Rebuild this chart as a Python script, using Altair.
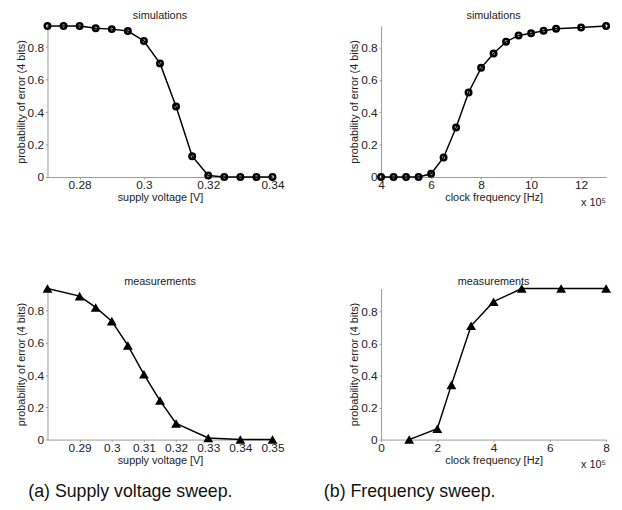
import altair as alt
import pandas as pd

# ---- data ----
v_sim = [0.27, 0.275, 0.28, 0.285, 0.29, 0.295, 0.30, 0.305, 0.31, 0.315, 0.32, 0.325, 0.33, 0.335, 0.34]
p_v_sim = [0.93, 0.93, 0.93, 0.917, 0.911, 0.899, 0.838, 0.70, 0.435, 0.128, 0.01, 0.0, 0.0, 0.0, 0.0]

f_sim = [4, 4.5, 5, 5.5, 6, 6.5, 7, 7.5, 8, 8.5, 9, 9.5, 10, 10.5, 11, 12, 13]
p_f_sim = [0.0, 0.0, 0.0, 0.0, 0.02, 0.121, 0.306, 0.522, 0.674, 0.763, 0.835, 0.874, 0.888, 0.903, 0.915, 0.923, 0.932]

v_meas = [0.28, 0.29, 0.295, 0.30, 0.305, 0.31, 0.315, 0.32, 0.33, 0.34, 0.35]
p_v_meas = [0.937, 0.89, 0.82, 0.735, 0.584, 0.405, 0.242, 0.10, 0.01, 0.0, 0.0]

f_meas = [1, 2, 2.5, 3.2, 4, 5, 6.4, 8]
p_f_meas = [0.0, 0.068, 0.342, 0.711, 0.862, 0.944, 0.944, 0.944]

x_ticks_v_sim = [0.28, 0.30, 0.32, 0.34]
x_ticks_f_sim = [4, 6, 8, 10, 12]
x_ticks_v_meas = [0.29, 0.30, 0.31, 0.32, 0.33, 0.34, 0.35]
x_ticks_f_meas = [0, 2, 4, 6, 8]
y_ticks = [0, 0.2, 0.4, 0.6, 0.8]

captions = ["(a) Supply voltage sweep.", "(b) Frequency sweep."]

FONT = "Liberation Sans"
W, H = 228, 153
Y_TITLE = "probability of error (4 bits)"


def panel(xs, ys, xdomain, xticks, title, xtitle, shape, filled, note=False, caption=None, cap_x=0):
    df = pd.DataFrame({"x": xs, "y": ys})
    xenc = alt.X("x:Q",
                 scale=alt.Scale(domain=xdomain, nice=False, zero=False),
                 axis=alt.Axis(values=xticks, format="~g", title=xtitle, grid=False,
                               domainColor="#999999", tickColor="#999999", tickSize=2,
                               labelFont=FONT, labelFontSize=12, labelColor="#222222",
                               labelPadding=1, titleFont=FONT, titleFontSize=11,
                               titleFontWeight="normal", titleColor="#222222",
                               titlePadding=1, labelFlush=False))
    yenc = alt.Y("y:Q",
                 scale=alt.Scale(domain=[0, max(ys)], nice=False, zero=True),
                 axis=alt.Axis(values=y_ticks, format="~g", title=Y_TITLE, grid=False,
                               domainColor="#999999", tickColor="#999999", tickSize=2,
                               labelFont=FONT, labelFontSize=12, labelColor="#222222",
                               labelPadding=2, titleFont=FONT, titleFontSize=11,
                               titleFontWeight="normal", titleColor="#222222",
                               titlePadding=1, labelFlush=False))
    base = alt.Chart(df)
    line = base.mark_line(color="black", strokeWidth=1.5).encode(x=xenc, y=yenc)
    if filled:
        pts = base.mark_point(shape=shape, filled=True, color="black", size=100, opacity=1).encode(x=xenc, y=yenc)
    else:
        pts = base.mark_point(shape=shape, filled=False, color="black", size=30,
                              strokeWidth=2.6, opacity=1).encode(x=xenc, y=yenc)
    layers = [line, pts]
    if note:
        nd = pd.DataFrame({"t": ["x 10\u2075"]})
        txt = alt.Chart(nd).mark_text(align="right", baseline="middle", font=FONT,
                                      fontSize=11, color="#222222").encode(
            text="t:N", x=alt.value(W), y=alt.value(H + 26))
        layers.append(txt)
    if caption:
        cd = pd.DataFrame({"t": [caption]})
        cap = alt.Chart(cd).mark_text(align="center", baseline="middle", font=FONT,
                                      fontSize=18, color="#111111").encode(
            text="t:N", x=alt.value(cap_x), y=alt.value(H + 53))
        layers.append(cap)
    return alt.layer(*layers).properties(
        width=W, height=H,
        title=alt.Title(title, font=FONT, fontSize=11, fontWeight="normal",
                        color="#222222", offset=-3))


p1 = panel(v_sim, p_v_sim, [0.27, 0.34], x_ticks_v_sim, "simulations", "supply voltage [V]", "circle", False)
p2 = panel(f_sim, p_f_sim, [4, 13], x_ticks_f_sim, "simulations", "clock frequency [Hz]", "circle", False, note=True)
p3 = panel(v_meas, p_v_meas, [0.28, 0.35], x_ticks_v_meas, "measurements", "supply voltage [V]",
           "triangle-up", True, caption=captions[0], cap_x=84)
p4 = panel(f_meas, p_f_meas, [0, 8], x_ticks_f_meas, "measurements", "clock frequency [Hz]",
           "triangle-up", True, note=True, caption=captions[1], cap_x=29)

chart = alt.concat(p1, p2, p3, p4, columns=2, spacing={"row": 113, "column": 110},
                   bounds="flush").properties(
    padding={"left": 7, "top": -1, "right": 0, "bottom": 0}
).configure_view(stroke=None)

chart.save("out.html", embed_options={"renderer": "svg", "actions": False})
